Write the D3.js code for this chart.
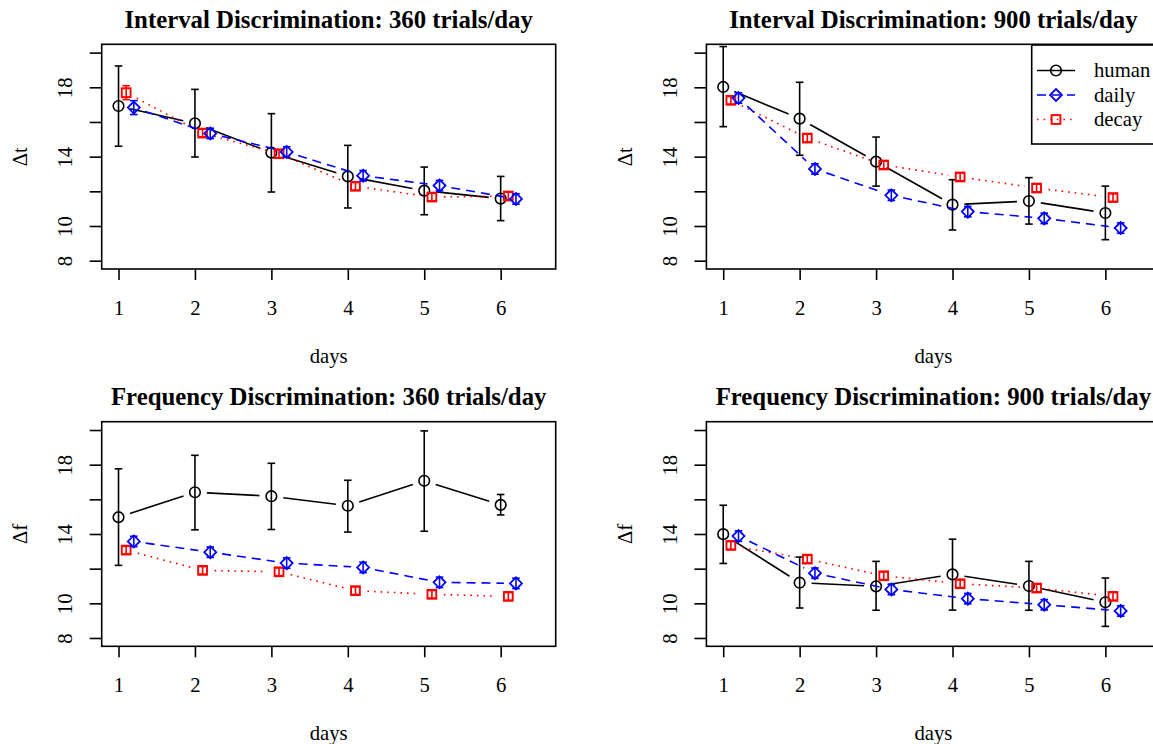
<!DOCTYPE html>
<html><head><meta charset="utf-8">
<script src="https://cdn.jsdelivr.net/npm/d3@7"></script>
<style>body{margin:0;background:#fff} svg{display:block} text{font-family:"Liberation Serif","Times New Roman",serif !important;fill:#000}</style>
</head><body><svg id="c" width="1153" height="744"></svg>
<script>
// ---------- data ----------
const days = [1, 2, 3, 4, 5, 6];
const yTicks = [8, 10, 12, 14, 16, 18, 20];
const yTickLabels = ["8", "10", "", "14", "", "18", ""];
const seriesNames = ["human", "daily", "decay"];
const titles = ["Interval Discrimination: 360 trials/day", "Interval Discrimination: 900 trials/day",
                "Frequency Discrimination: 360 trials/day", "Frequency Discrimination: 900 trials/day"];
const yLabels = ["\u0394t", "\u0394t", "\u0394f", "\u0394f"];
const xLabel = "days";

// Interval 360
const humanI360   = [16.92, 15.92, 14.23, 12.86, 12.04, 11.58];
const humanI360lo = [14.60, 13.98, 11.96, 11.04, 10.65, 10.31];
const humanI360hi = [19.23, 17.88, 16.48, 14.65, 13.40, 12.86];
const dailyI360   = [16.83, 15.34, 14.27, 12.90, 12.33, 11.56];
const dailyI360se = [0.40, 0.30, 0.30, 0.30, 0.30, 0.30];
const decayI360   = [17.69, 15.36, 14.17, 12.29, 11.67, 11.73];
const decayI360se = [0.40, 0.22, 0.22, 0.22, 0.22, 0.22];
// Interval 900
const humanI900   = [18.02, 16.19, 13.71, 11.23, 11.44, 10.75];
const humanI900lo = [15.73, 14.08, 12.30, 9.77, 10.11, 9.21];
const humanI900hi = [20.35, 18.29, 15.13, 12.67, 12.79, 12.30];
const dailyI900   = [17.38, 13.29, 11.77, 10.83, 10.44, 9.88];
const dailyI900se = [0.30, 0.30, 0.30, 0.30, 0.30, 0.30];
const decayI900   = [17.25, 15.07, 13.52, 12.83, 12.19, 11.64];
const decayI900se = [0.22, 0.22, 0.22, 0.22, 0.22, 0.22];
// Frequency 360
const humanF360   = [14.97, 16.41, 16.18, 15.63, 17.07, 15.68];
const humanF360lo = [12.19, 14.24, 14.26, 14.11, 14.16, 15.10];
const humanF360hi = [17.76, 18.54, 18.08, 17.10, 19.95, 16.28];
const dailyF360   = [13.57, 12.95, 12.32, 12.07, 11.21, 11.15];
const dailyF360se = [0.30, 0.30, 0.30, 0.30, 0.30, 0.30];
const decayF360   = [13.07, 11.90, 11.82, 10.73, 10.52, 10.40];
const decayF360se = [0.22, 0.22, 0.22, 0.22, 0.22, 0.22];
// Frequency 900
const humanF900   = [13.99, 11.19, 10.98, 11.67, 11.00, 10.06];
const humanF900lo = [12.30, 9.73, 9.60, 9.61, 9.60, 8.67];
const humanF900hi = [15.66, 12.67, 12.42, 13.70, 12.42, 11.46];
const dailyF900   = [13.88, 11.74, 10.80, 10.27, 9.92, 9.56];
const dailyF900se = [0.30, 0.30, 0.30, 0.30, 0.30, 0.30];
const decayF900   = [13.34, 12.55, 11.59, 11.13, 10.88, 10.40];
const decayF900se = [0.22, 0.22, 0.22, 0.22, 0.22, 0.22];

const panelsData = [
  {human: humanI360, lo: humanI360lo, hi: humanI360hi, daily: dailyI360, dailySe: dailyI360se, decay: decayI360, decaySe: decayI360se},
  {human: humanI900, lo: humanI900lo, hi: humanI900hi, daily: dailyI900, dailySe: dailyI900se, decay: decayI900, decaySe: decayI900se},
  {human: humanF360, lo: humanF360lo, hi: humanF360hi, daily: dailyF360, dailySe: dailyF360se, decay: decayF360, decaySe: decayF360se},
  {human: humanF900, lo: humanF900lo, hi: humanF900hi, daily: dailyF900, dailySe: dailyF900se, decay: decayF900, decaySe: decayF900se}
];

// ---------- layout ----------
const FONT = '"Liberation Serif","Times New Roman",serif';
const FS = 20.7, FS_TITLE = 24.8;
const svg = d3.select("#c");
const boxes = [
  {l: 101.7, r: 555.7, t: 44.3, b: 269},
  {l: 706.4, r: 1160.4, t: 44.3, b: 269},
  {l: 101.7, r: 555.7, t: 421.7, b: 646.3},
  {l: 706.4, r: 1160.4, t: 421.7, b: 646.3}
];
const LW = 1.6, GAP = 12, CAP = 3.8;
const colors = {human: "#000", daily: "#0000FF", decay: "#FF0000"};
const dashes = {human: null, daily: "9,6", decay: "1.6,5"};
const offsets = {human: 0, daily: 0.2, decay: 0.1};

function symbol(g, kind, cx, cy) {
  if (kind === "human") {
    g.append("circle").attr("cx", cx).attr("cy", cy).attr("r", 5.3)
      .attr("fill", "none").attr("stroke", colors.human).attr("stroke-width", LW);
  } else if (kind === "daily") {
    const s = 6;
    g.append("path").attr("d", `M${cx},${cy - s}L${cx + s},${cy}L${cx},${cy + s}L${cx - s},${cy}Z`)
      .attr("fill", "none").attr("stroke", colors.daily).attr("stroke-width", LW + 0.2);
  } else {
    const s = 4.4;
    g.append("rect").attr("x", cx - s).attr("y", cy - s).attr("width", 2 * s).attr("height", 2 * s)
      .attr("fill", "none").attr("stroke", colors.decay).attr("stroke-width", LW + 0.3);
  }
}

function gappedLine(g, pts, kind) {
  for (let i = 0; i < pts.length - 1; i++) {
    const [x0, y0] = pts[i], [x1, y1] = pts[i + 1];
    const dx = x1 - x0, dy = y1 - y0, L = Math.hypot(dx, dy);
    if (L <= 2 * GAP) continue;
    const ux = dx / L, uy = dy / L;
    const p = d3.path();
    p.moveTo(x0 + ux * GAP, y0 + uy * GAP);
    p.lineTo(x1 - ux * GAP, y1 - uy * GAP);
    g.append("path").attr("d", p.toString()).attr("fill", "none")
      .attr("stroke", colors[kind]).attr("stroke-width", LW)
      .attr("stroke-dasharray", dashes[kind]);
  }
}

function errBar(g, x, ylo, yhi, color) {
  g.append("line").attr("x1", x).attr("x2", x).attr("y1", ylo).attr("y2", yhi)
    .attr("stroke", color).attr("stroke-width", LW);
  [ylo, yhi].forEach(yy => g.append("line").attr("x1", x - CAP).attr("x2", x + CAP)
    .attr("y1", yy).attr("y2", yy).attr("stroke", color).attr("stroke-width", LW));
}

panelsData.forEach((d, k) => {
  const bx = boxes[k];
  const g = svg.append("g");
  const x = d3.scaleLinear().domain([0.78, 6.72]).range([bx.l, bx.r]);
  const y = d3.scaleLinear().domain([7.52, 20.48]).range([bx.b, bx.t]);

  // axes
  const xa = g.append("g").attr("transform", `translate(0,${bx.b})`)
    .call(d3.axisBottom(x).tickValues(days).tickFormat(d3.format("d")).tickSize(11).tickSizeOuter(0).tickPadding(20));
  xa.attr("font-family", FONT).attr("font-size", FS);
  xa.select(".domain").remove();
  xa.selectAll("line").attr("stroke", "#000").attr("stroke-width", LW);
  xa.selectAll("text").style("font-family", FONT).style("font-size", FS + "px");

  const ya = g.append("g").attr("transform", `translate(${bx.l},0)`)
    .call(d3.axisLeft(y).tickValues(yTicks).tickFormat((v, i) => yTickLabels[i]).tickSize(12).tickSizeOuter(0));
  ya.attr("font-family", FONT).attr("font-size", FS);
  ya.select(".domain").remove();
  ya.selectAll("line").attr("stroke", "#000").attr("stroke-width", LW);
  ya.selectAll("text").style("font-family", FONT).style("font-size", FS + "px")
    .attr("x", null).attr("dy", null).attr("text-anchor", "middle")
    .attr("transform", "translate(-29.5,0) rotate(-90)");

  // box
  g.append("rect").attr("x", bx.l).attr("y", bx.t).attr("width", bx.r - bx.l).attr("height", bx.b - bx.t)
    .attr("fill", "none").attr("stroke", "#000").attr("stroke-width", LW);

  // titles & labels
  const cx = (bx.l + bx.r) / 2;
  g.append("text").attr("x", cx).attr("y", bx.t - 16.3).attr("text-anchor", "middle")
    .style("font-family", FONT).style("font-size", FS_TITLE + "px").attr("font-weight", "bold").text(titles[k]);
  g.append("text").attr("x", cx).attr("y", bx.b + 94).attr("text-anchor", "middle")
    .style("font-family", FONT).style("font-size", FS + "px").text(xLabel);
  g.append("text").attr("transform", `translate(${bx.l - 74.5},${(bx.t + bx.b) / 2}) rotate(-90)`)
    .attr("text-anchor", "middle").style("font-family", FONT).style("font-size", FS + "px").text(yLabels[k]);

  // human
  const hp = days.map((dd, i) => [x(dd + offsets.human), y(d.human[i])]);
  gappedLine(g, hp, "human");
  days.forEach((dd, i) => errBar(g, x(dd), y(d.lo[i]), y(d.hi[i]), colors.human));
  hp.forEach(p => symbol(g, "human", p[0], p[1]));

  // decay
  const cp = days.map((dd, i) => [x(dd + offsets.decay), y(d.decay[i])]);
  gappedLine(g, cp, "decay");
  days.forEach((dd, i) => errBar(g, x(dd + offsets.decay), y(d.decay[i] - d.decaySe[i]), y(d.decay[i] + d.decaySe[i]), colors.decay));
  cp.forEach(p => symbol(g, "decay", p[0], p[1]));

  // daily
  const dp = days.map((dd, i) => [x(dd + offsets.daily), y(d.daily[i])]);
  gappedLine(g, dp, "daily");
  days.forEach((dd, i) => errBar(g, x(dd + offsets.daily), y(d.daily[i] - d.dailySe[i]), y(d.daily[i] + d.dailySe[i]), colors.daily));
  dp.forEach(p => symbol(g, "daily", p[0], p[1]));

  // legend on second panel
  if (k === 1) {
    const lg = svg.append("g");
    lg.append("rect").attr("x", 1031.7).attr("y", 45).attr("width", 150).attr("height", 99)
      .attr("fill", "#fff").attr("stroke", "#000").attr("stroke-width", LW);
    const rows = [70.5, 95, 119.5];
    seriesNames.forEach((s, i) => {
      lg.append("line").attr("x1", 1037).attr("x2", 1075).attr("y1", rows[i]).attr("y2", rows[i])
        .attr("stroke", colors[s]).attr("stroke-width", LW).attr("stroke-dasharray", dashes[s]);
      symbol(lg, s, 1056, rows[i]);
      lg.append("text").attr("x", 1094).attr("y", rows[i] + 6.5)
        .style("font-family", FONT).style("font-size", FS + "px").text(s);
    });
  }
});
</script></body></html>
